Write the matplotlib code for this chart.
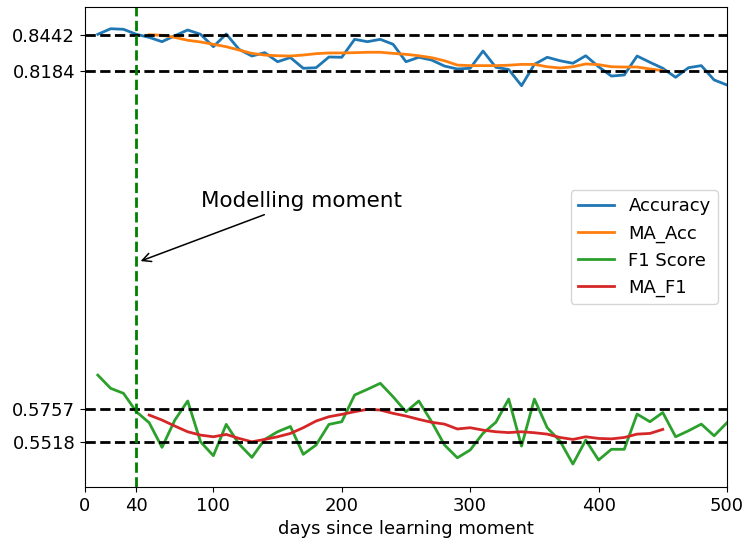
import matplotlib
matplotlib.use("Agg")
import matplotlib.pyplot as plt

# days since learning moment, sampled every 10 days
days = list(range(10, 510, 10))
accuracy = [
    0.8447, 0.8487, 0.8483, 0.8447, 0.8425, 0.8394, 0.8437, 0.8478, 0.8447, 0.8358,
    0.8449, 0.8339, 0.8291, 0.8315, 0.8250, 0.8280, 0.8203, 0.8207, 0.8284, 0.8282,
    0.8411, 0.8394, 0.8411, 0.8375, 0.8250, 0.8282, 0.8262, 0.8219, 0.8198, 0.8203,
    0.8327, 0.8210, 0.8194, 0.8078, 0.8231, 0.8282, 0.8257, 0.8239, 0.8293, 0.8214,
    0.8147, 0.8155, 0.8291, 0.8246, 0.8203, 0.8138, 0.8207, 0.8222, 0.8119, 0.8083,
]
f1_score = [
    0.5999, 0.5904, 0.5868, 0.5736, 0.5657, 0.5480, 0.5676, 0.5813, 0.5520, 0.5420,
    0.5645, 0.5504, 0.5408, 0.5537, 0.5592, 0.5630, 0.5430, 0.5497, 0.5645, 0.5664,
    0.5856, 0.5897, 0.5940, 0.5843, 0.5736, 0.5813, 0.5664, 0.5497, 0.5405, 0.5461,
    0.5581, 0.5660, 0.5827, 0.5489, 0.5827, 0.5621, 0.5525, 0.5360, 0.5532, 0.5389,
    0.5466, 0.5466, 0.5719, 0.5664, 0.5730, 0.5556, 0.5599, 0.5647, 0.5563, 0.5657,
]

# moving averages from day 50 to day 450
ma_days = list(range(50, 460, 10))
ma_acc = [
    0.8444, 0.8440, 0.8425, 0.8404, 0.8392, 0.8375, 0.8358, 0.8334, 0.8310, 0.8298,
    0.8293, 0.8291, 0.8298, 0.8308, 0.8313, 0.8313, 0.8315, 0.8318, 0.8318, 0.8310,
    0.8303, 0.8293, 0.8279, 0.8257, 0.8226, 0.8222, 0.8222, 0.8222, 0.8225, 0.8231,
    0.8231, 0.8214, 0.8205, 0.8214, 0.8234, 0.8229, 0.8214, 0.8212, 0.8212, 0.8198,
    0.8186,
]
ma_f1 = [
    0.5712, 0.5676, 0.5633, 0.5592, 0.5568, 0.5556, 0.5573, 0.5544, 0.5520, 0.5537,
    0.5556, 0.5580, 0.5621, 0.5669, 0.5700, 0.5717, 0.5736, 0.5753, 0.5748, 0.5724,
    0.5705, 0.5681, 0.5660, 0.5647, 0.5612, 0.5621, 0.5604, 0.5592, 0.5586, 0.5592,
    0.5585, 0.5575, 0.5551, 0.5537, 0.5556, 0.5544, 0.5541, 0.5551, 0.5575, 0.5580,
    0.5609,
]

ref_levels = [0.8442, 0.8184, 0.5757, 0.5518]
model_day = 40
x_ticks = [0, 40, 100, 200, 300, 400, 500]

fig = plt.figure(figsize=(7.46, 5.4), dpi=100)
ax = fig.add_axes([0.1139, 0.0981, 0.8606, 0.8889])

ax.plot(days, accuracy, lw=2, label="Accuracy")
ax.plot(ma_days, ma_acc, lw=2, label="MA_Acc")
ax.plot(days, f1_score, lw=2, label="F1 Score")
ax.plot(ma_days, ma_f1, lw=2, label="MA_F1")

for level in ref_levels:
    ax.axhline(level, color="black", linestyle="--", lw=2)
ax.axvline(model_day, color="green", linestyle="--", lw=2)

ax.annotate(
    "Modelling moment",
    xy=(41.3, 0.6811),
    xytext=(90, 0.725),
    ha="left",
    va="center",
    fontsize=15.5,
    arrowprops=dict(arrowstyle="->", color="black", lw=1.1),
)

ax.set_xlim(0, 500)
ax.set_ylim(0.5195, 0.8643)
ax.set_xticks(x_ticks)
ax.set_yticks(ref_levels)
ax.set_yticklabels([f"{v:.4f}" for v in ref_levels])
ax.tick_params(labelsize=13)
ax.set_xlabel("days since learning moment", fontsize=13)

ax.legend(loc="center right", fontsize=13)

fig.savefig("out.png", dpi=100)
